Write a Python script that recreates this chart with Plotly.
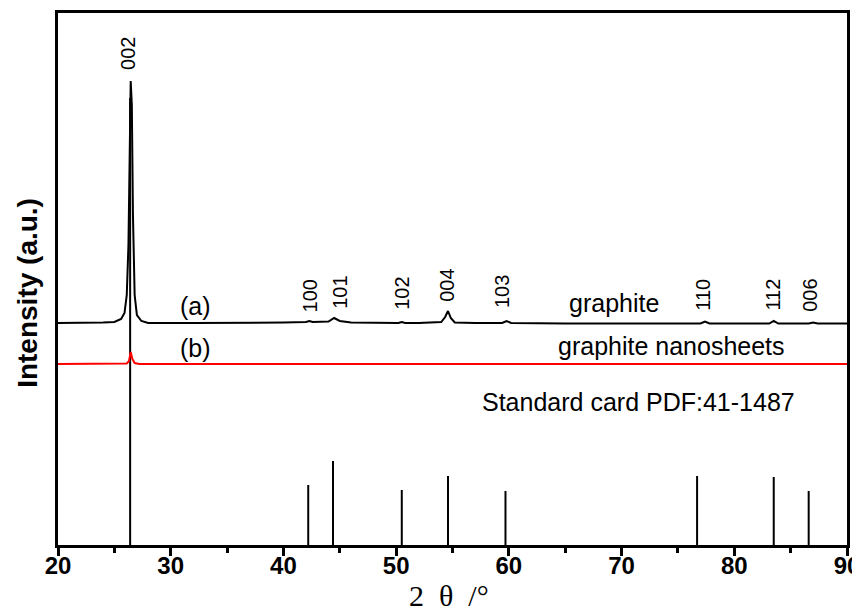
import plotly.graph_objects as go

# Curve (a): graphite
xa = [20, 22, 24, 25.0, 25.6, 25.9, 26.1, 26.25, 26.35, 26.45, 26.55, 26.65, 26.8, 27.0, 27.4, 28, 32, 36, 40,
      42.0, 42.3, 42.6, 44.0, 44.5, 45.0, 46, 48, 50.2, 50.5, 50.8, 52, 54.0, 54.35, 54.6, 54.85, 55.2, 57,
      59.4, 59.8, 60.2, 65, 70, 77.0, 77.4, 77.8, 80, 83.1, 83.5, 83.9, 86.6, 87.0, 87.4, 90]
ya = [222, 222, 222.5, 223, 226, 232, 250, 300, 400, 464, 440, 330, 250, 230, 224, 222, 222, 222, 222.5,
      223, 224, 223, 223.5, 227, 224, 222.5, 222, 222, 223, 222, 222, 223, 228, 234, 227, 222.5, 222,
      222, 224, 222, 221.5, 221.5, 221.5, 223.5, 221.5, 221.5, 221.5, 224, 221.5, 221.5, 222.5, 221.5, 221.5]

# Curve (b): graphite nanosheets
xb = [20, 25, 26.1, 26.3, 26.45, 26.6, 26.8, 27.2, 35, 45, 55, 65, 75, 85, 90]
yb = [181, 181, 181.5, 184, 193, 186, 182, 181, 181, 181, 181, 181, 181, 181, 181]

# Standard card PDF:41-1487 line positions and heights
card_x = [26.4, 42.2, 44.4, 50.5, 54.6, 59.7, 76.7, 83.5, 86.6]
card_h = [447, 60, 84, 55, 69, 54, 69, 68, 54]

# Peak labels
hkl_labels = ["002", "100", "101", "102", "004", "103", "110", "112", "006"]
hkl_x = [26.2, 42.4, 45.0, 50.5, 54.5, 59.4, 77.2, 83.4, 86.7]
hkl_y = [492, 249, 253, 252, 260, 253, 250, 250, 250]

fig = go.Figure()

cx, cy = [], []
for x, h in zip(card_x, card_h):
    cx += [x, x, None]
    cy += [0, h, None]
fig.add_trace(go.Scatter(x=cx, y=cy, mode="lines", line=dict(color="black", width=2), hoverinfo="skip"))
fig.add_trace(go.Scatter(x=xb, y=yb, mode="lines", line=dict(color="#ff0000", width=2)))
fig.add_trace(go.Scatter(x=xa, y=ya, mode="lines", line=dict(color="black", width=2)))

for t, x, y in zip(hkl_labels, hkl_x, hkl_y):
    fig.add_annotation(x=x, y=y, text=t, textangle=-90, showarrow=False,
                       font=dict(family="Arial, Liberation Sans", size=20, color="black"))

txt = [("(a)", 32.2, 239), ("(b)", 32.2, 197), ("graphite", 69.3, 242),
       ("graphite nanosheets", 74.4, 199), ("Standard card PDF:41-1487", 71.5, 143)]
for t, x, y in txt:
    fig.add_annotation(x=x, y=y, text=t, showarrow=False,
                       font=dict(family="Arial, Liberation Sans", size=25, color="black"))

# Axis titles
fig.add_annotation(xref="paper", yref="paper", x=-0.038, y=0.474, text="<b>Intensity (a.u.)</b>",
                   textangle=-90, showarrow=False, xanchor="center", yanchor="middle",
                   font=dict(family="Arial, Liberation Sans", size=28, color="black"))
fig.add_annotation(xref="paper", yref="paper", x=0.4956, y=-0.095, text="2\u00a0\u00a0θ\u00a0\u00a0/°",
                   showarrow=False, xanchor="center", yanchor="middle",
                   font=dict(family="Liberation Serif, DejaVu Serif", size=30, color="black"))

fig.update_layout(
    width=852, height=606, showlegend=False,
    margin=dict(l=50, r=13, t=5, b=69),
    plot_bgcolor="white", paper_bgcolor="white",
    xaxis=dict(range=[20, 90], tickmode="array", tickvals=[20, 30, 40, 50, 60, 70, 80, 90],
               ticks="outside", ticklen=8, tickwidth=2.5, tickcolor="black", ticklabelstandoff=-11,
               ticklabeloverflow="allow", automargin=False,
               minor=dict(tickvals=[25, 35, 45, 55, 65, 75, 85], ticks="outside", ticklen=5, tickwidth=2.5, tickcolor="black"),
               showline=True, linewidth=2.5, linecolor="black", mirror=True, showgrid=False, zeroline=False,
               tickfont=dict(family="Arial, Liberation Sans", size=24, color="black", weight="bold")),
    yaxis=dict(range=[0, 532], showticklabels=False, ticks="", showline=True, linewidth=2.5, linecolor="black",
               mirror=True, showgrid=False, zeroline=False, automargin=False),
)

fig.write_html("out.html")
